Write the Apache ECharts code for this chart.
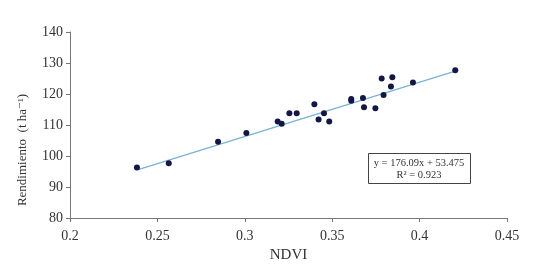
<!DOCTYPE html>
<html>
<head>
<meta charset="utf-8">
<script src="https://cdn.jsdelivr.net/npm/echarts@6/dist/echarts.min.js"></script>
<style>
  html, body { margin: 0; padding: 0; background: #fff; }
  #chart { width: 540px; height: 268px; }
</style>
</head>
<body>
<div id="chart"></div>
<script>
// NDVI vs rendimiento
const ndvi = [0.2383, 0.2565, 0.2847, 0.3009, 0.3188, 0.3211, 0.3255, 0.3297,
  0.3398, 0.3422, 0.3453, 0.3483, 0.3609, 0.3609, 0.3676, 0.3682, 0.3747,
  0.3783, 0.3844, 0.3836, 0.3794, 0.3962, 0.4204]
const rendimiento = [96.3, 97.7, 104.6, 107.4, 111.1, 110.4, 113.8, 113.8,
  116.7, 111.8, 113.8, 111.1, 118.4, 117.8, 118.7, 115.7, 115.4,
  125.0, 125.4, 122.4, 119.7, 123.7, 127.7]
// extremos de la linea de tendencia
const trendX = [0.239, 0.4204]
const trendY = [95.6, 127.4]
const eqLines = ['y = 176.09x + 53.475', 'R² = 0.923']

const serif = '"Liberation Serif", "DejaVu Serif", serif'
const chart = echarts.init(document.getElementById('chart'))
chart.setOption({
  animation: false,
  backgroundColor: '#fff',
  grid: { left: 70, right: 33, top: 32, bottom: 48 },
  graphic: [
    {
      type: 'rect',
      left: 368,
      top: 153,
      shape: { width: 102, height: 30 },
      style: { fill: '#fff', stroke: '#444', lineWidth: 1 },
      z: 10
    },
    {
      type: 'text',
      x: 419,
      y: 163,
      style: {
        text: eqLines[0],
        fontFamily: serif,
        fontSize: 10.5,
        fill: '#333',
        align: 'center',
        verticalAlign: 'middle'
      },
      z: 11
    },
    {
      type: 'text',
      x: 419,
      y: 175,
      style: {
        text: eqLines[1],
        fontFamily: serif,
        fontSize: 10.5,
        fill: '#333',
        align: 'center',
        verticalAlign: 'middle'
      },
      z: 11
    }
  ],
  xAxis: {
    type: 'value',
    min: 0.2,
    max: 0.45,
    interval: 0.05,
    name: 'NDVI',
    nameLocation: 'middle',
    nameGap: 30,
    nameTextStyle: { fontFamily: serif, fontSize: 15, color: '#333' },
    splitLine: { show: false },
    axisLine: { lineStyle: { color: '#777', width: 1 } },
    axisTick: { show: true, length: 4, lineStyle: { color: '#777' } },
    axisLabel: { fontFamily: serif, fontSize: 14, color: '#333', margin: 11 }
  },
  yAxis: {
    type: 'value',
    min: 80,
    max: 140,
    interval: 10,
    name: 'Rendimiento  (t ha⁻¹)',
    nameLocation: 'middle',
    nameGap: 41,
    nameTextStyle: { fontFamily: serif, fontSize: 13, color: '#333', padding: [0, 50, 0, 0] },
    splitLine: { show: false },
    axisLine: { show: true, lineStyle: { color: '#777', width: 1 } },
    axisTick: { show: true, length: 4, lineStyle: { color: '#777' } },
    axisLabel: { fontFamily: serif, fontSize: 14, color: '#333', margin: 7 }
  },
  series: [
    {
      type: 'line',
      data: trendX.map((x, i) => [x, trendY[i]]),
      symbol: 'none',
      lineStyle: { color: '#78b4d2', width: 1.3 },
      z: 1
    },
    {
      type: 'scatter',
      data: ndvi.map((x, i) => [x, rendimiento[i]]),
      symbolSize: 6,
      itemStyle: { color: '#141646', opacity: 1 },
      z: 2
    }
  ]
})
</script>
</body>
</html>
